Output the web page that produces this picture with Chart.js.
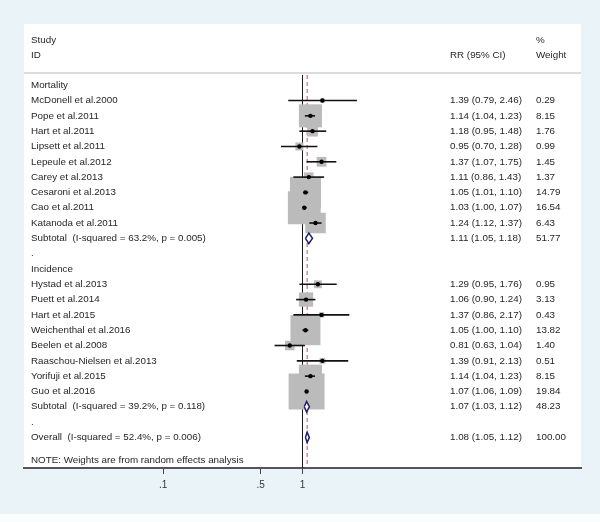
<!DOCTYPE html>
<html><head><meta charset="utf-8">
<script src="https://cdn.jsdelivr.net/npm/chart.js@4.4.1/dist/chart.umd.min.js"></script>
<style>html,body{margin:0;padding:0;background:#eaf3f7;} #wrap{width:600px;height:522px;}</style>
</head><body><div id="wrap"><canvas id="c" width="600" height="522"></canvas></div>
<script>
const studies = ["McDonell et al.2000","Pope et al.2011","Hart et al.2011","Lipsett et al.2011","Lepeule et al.2012","Carey et al.2013","Cesaroni et al.2013","Cao et al.2011","Katanoda et al.2011","Hystad et al.2013","Puett et al.2014","Hart et al.2015","Weichenthal et al.2016","Beelen et al.2008","Raaschou-Nielsen et al.2013","Yorifuji et al.2015","Guo et al.2016"];
const studyRows = [1,2,3,4,5,6,7,8,9,13,14,15,16,17,18,19,20];
const rr     = [1.39,1.14,1.18,0.95,1.37,1.11,1.05,1.03,1.24,1.29,1.06,1.37,1.05,0.81,1.39,1.14,1.07];
const ciLow  = [0.79,1.04,0.95,0.70,1.07,0.86,1.01,1.00,1.12,0.95,0.90,0.86,1.00,0.63,0.91,1.04,1.06];
const ciHigh = [2.46,1.23,1.48,1.28,1.75,1.43,1.10,1.07,1.37,1.76,1.24,2.17,1.10,1.04,2.13,1.23,1.09];
const weights = [0.29,8.15,1.76,0.99,1.45,1.37,14.79,16.54,6.43,0.95,3.13,0.43,13.82,1.40,0.51,8.15,19.84];

const pooledLabels = ["Subtotal  (I-squared = 63.2%, p = 0.005)","Subtotal  (I-squared = 39.2%, p = 0.118)","Overall  (I-squared = 52.4%, p = 0.006)"];
const pooledRows = [10,21,23];
const pooledRR = [1.11,1.07,1.08];
const pooledLow = [1.05,1.03,1.05];
const pooledHigh = [1.18,1.12,1.12];
const pooledWeights = [51.77,48.23,100.00];

const groupLabels = ["Mortality",".","Incidence","."];
const groupRows = [0,11,12,22];

const tickValues = [0.1,0.5,1];
const tickLabels = [".1",".5","1"];

const FONT = '"Liberation Sans", Arial, sans-serif';
const TEXT = '#262626';

const datasets = [];
// reference lines
datasets.push({type:'scatter', showLine:true, data:[{x:1,y:-0.67},{x:1,y:25}], borderColor:'#1a1a1a', borderWidth:1, pointRadius:0, order:5});
const overallRR = pooledRR[pooledRR.length-1];
datasets.push({type:'scatter', showLine:true, data:[{x:overallRR,y:-0.67},{x:overallRR,y:25}], borderColor:'#b25566', borderWidth:1, borderDash:[4,3], pointRadius:0, order:5});
// weight squares
datasets.push({type:'scatter', data: rr.map((v,i)=>({x:v,y:studyRows[i]})), pointStyle:'rect', pointRadius: weights.map(w=>Math.sqrt(w)*5.71), backgroundColor:'#bbbbbb', borderWidth:0, order:4});
// CI lines
rr.forEach((v,i)=>{
  datasets.push({type:'scatter', showLine:true, data:[{x:ciLow[i],y:studyRows[i]},{x:ciHigh[i],y:studyRows[i]}], borderColor:'#111', borderWidth:1.6, pointRadius:0, order:2});
});
// diamonds
const dh = 0.34;
pooledRR.forEach((v,i)=>{
  const r = pooledRows[i];
  datasets.push({type:'scatter', showLine:true, data:[{x:pooledLow[i],y:r},{x:v,y:r-dh},{x:pooledHigh[i],y:r},{x:v,y:r+dh},{x:pooledLow[i],y:r}], borderColor:'#1e1e6e', borderWidth:1.5, backgroundColor:'#ffffff', fill:'shape', pointRadius:0, tension:0, order:2});
});
// point estimates
datasets.push({type:'scatter', data: rr.map((v,i)=>({x:v,y:studyRows[i]})), pointStyle:'circle', pointRadius:2.2, backgroundColor:'#000', borderWidth:0, order:1});

const panelPlugin = {
  id:'panel',
  beforeDraw(chart){
    const {ctx, chartArea:a} = chart;
    ctx.save();
    ctx.fillStyle = '#eaf3f7';
    ctx.fillRect(0,0,chart.width,chart.height);
    ctx.fillStyle = '#fafcfd';
    ctx.fillRect(0,514,chart.width,chart.height-514);
    ctx.fillStyle = '#ffffff';
    ctx.fillRect(a.left, a.top, a.right-a.left, a.bottom-a.top);
    const y = chart.scales.y;
    ctx.strokeStyle = '#dcdcdc';
    ctx.lineWidth = 2;
    ctx.beginPath();
    ctx.moveTo(a.left, y.getPixelForValue(-0.8));
    ctx.lineTo(a.right, y.getPixelForValue(-0.8));
    ctx.stroke();
    ctx.restore();
  },
  afterDraw(chart){
    const {ctx} = chart;
    const y = chart.scales.y;
    const xL = 31, xRR = 450, xW = 536;
    ctx.save();
    ctx.font = '9.8px ' + FONT;
    ctx.fillStyle = TEXT;
    ctx.textBaseline = 'middle';
    ctx.textAlign = 'left';
    const hy1 = y.getPixelForValue(-2.95), hy2 = y.getPixelForValue(-1.97);
    ctx.fillText('Study', xL, hy1);
    ctx.fillText('ID', xL, hy2);
    ctx.fillText('RR (95% CI)', xRR, hy2);
    ctx.fillText('%', xW, hy1);
    ctx.fillText('Weight', xW, hy2);
    groupLabels.forEach((t,i)=>ctx.fillText(t, xL, y.getPixelForValue(groupRows[i])));
    studies.forEach((t,i)=>{
      const py = y.getPixelForValue(studyRows[i]);
      ctx.fillText(t, xL, py);
      ctx.fillText(rr[i].toFixed(2)+' ('+ciLow[i].toFixed(2)+', '+ciHigh[i].toFixed(2)+')', xRR, py);
      ctx.fillText(weights[i].toFixed(2), xW, py);
    });
    pooledLabels.forEach((t,i)=>{
      const py = y.getPixelForValue(pooledRows[i]);
      ctx.fillText(t, xL, py);
      ctx.fillText(pooledRR[i].toFixed(2)+' ('+pooledLow[i].toFixed(2)+', '+pooledHigh[i].toFixed(2)+')', xRR, py);
      ctx.fillText(pooledWeights[i].toFixed(2), xW, py);
    });
    ctx.fillText('NOTE: Weights are from random effects analysis', xL, y.getPixelForValue(24.48));
    ctx.restore();
  }
};

new Chart(document.getElementById('c'), {
  type:'scatter',
  data:{datasets},
  options:{
    responsive:false,
    animation:false,
    devicePixelRatio:1,
    layout:{autoPadding:false, padding:{left:24,right:19,top:24,bottom:26}},
    plugins:{legend:{display:false}, tooltip:{enabled:false}},
    scales:{
      x:{
        type:'logarithmic', min:0.01, max:100, position:'bottom',
        afterBuildTicks:(s)=>{ s.ticks = tickValues.map(v=>({value:v})); },
        ticks:{autoSkip:false, maxRotation:0, padding:5, color:'#333', font:{family:FONT, size:10},
          callback:(v,i)=>tickLabels[i]},
        grid:{display:true, drawOnChartArea:false, drawTicks:true, tickLength:6, color:'#444', lineWidth:1},
        border:{display:true, color:'#555', width:2}
      },
      y:{type:'linear', min:-4, max:25, reverse:true, display:false}
    }
  },
  plugins:[panelPlugin]
});
</script>
</body></html>
